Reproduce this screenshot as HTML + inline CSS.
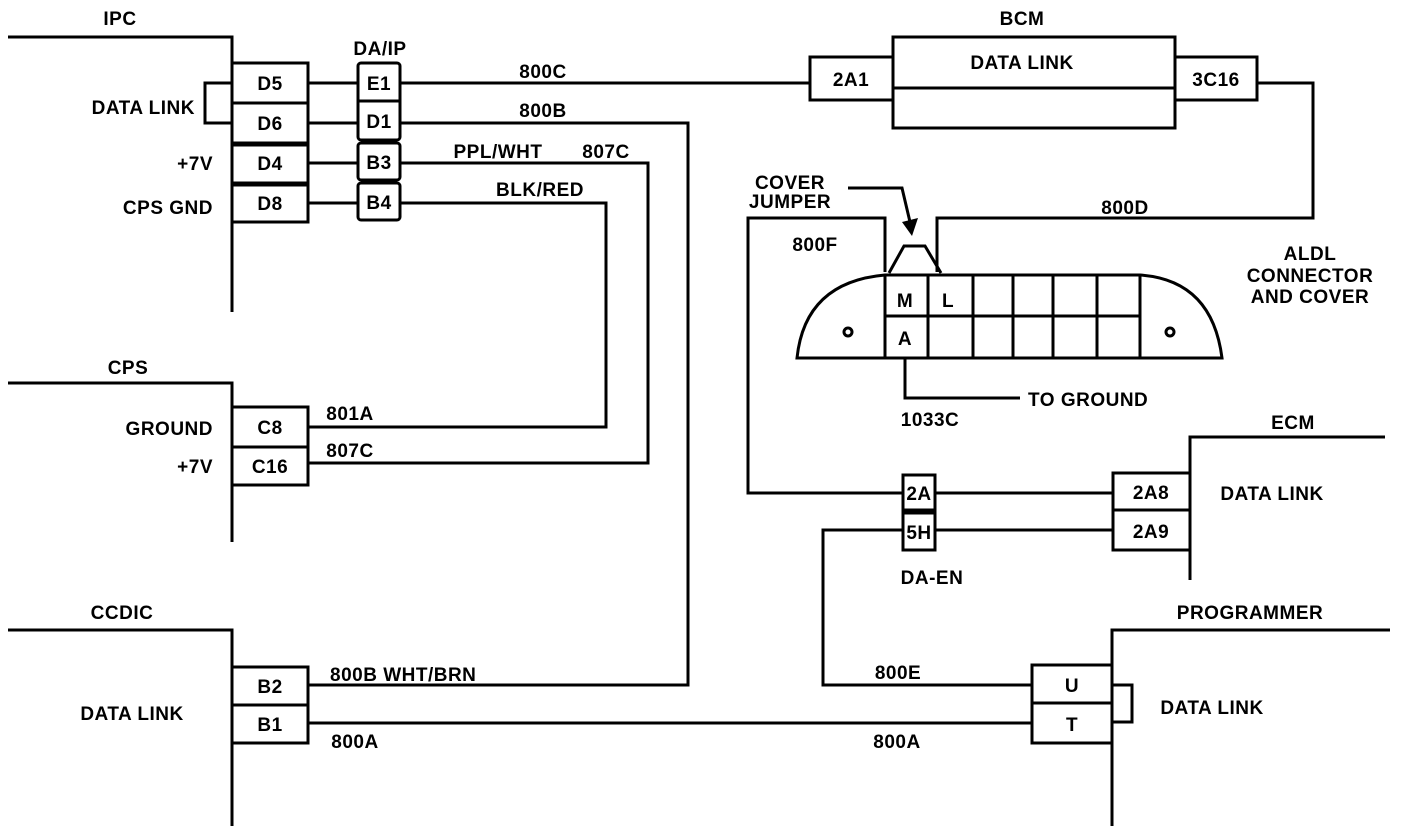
<!DOCTYPE html>
<html><head><style>
html,body{margin:0;padding:0;background:#fff;}
svg{display:block;}
text{font-family:"Liberation Sans",sans-serif;font-weight:bold;font-size:19px;fill:#000;letter-spacing:0.5px;}
</style></head><body>
<svg width="1408" height="826" viewBox="0 0 1408 826" xmlns="http://www.w3.org/2000/svg">
<g fill="none" stroke="#000" stroke-width="3">
<polyline points="8,37 232,37 232,312"/>
<rect x="232" y="63" width="76" height="80"/><line x1="232" y1="103" x2="308" y2="103"/>
<rect x="232" y="145" width="76" height="38"/>
<rect x="232" y="185" width="76" height="37"/>
<polyline points="232,83 205,83 205,123 232,123"/>
<line x1="308" y1="83" x2="358" y2="83"/><line x1="308" y1="123" x2="358" y2="123"/>
<line x1="308" y1="163" x2="358" y2="163"/><line x1="308" y1="203" x2="358" y2="203"/>
<rect x="358" y="63" width="42" height="77" rx="3"/><line x1="358" y1="101" x2="400" y2="101"/>
<rect x="358" y="143" width="42" height="37" rx="3"/>
<rect x="358" y="183" width="42" height="37" rx="3"/>
<line x1="400" y1="83" x2="810" y2="83"/>
<polyline points="400,123 688,123 688,685 308,685"/>
<polyline points="400,163 648,163 648,463 308,463"/>
<polyline points="400,203 606,203 606,427 308,427"/>
<polyline points="8,383 232,383 232,542"/>
<rect x="232" y="407" width="76" height="40"/><rect x="232" y="447" width="76" height="38"/>
<polyline points="8,630 232,630 232,826"/>
<rect x="232" y="667" width="76" height="38"/><rect x="232" y="705" width="76" height="38"/>
<line x1="308" y1="723" x2="1032" y2="723"/>
<rect x="893" y="37" width="282" height="91"/><line x1="893" y1="88" x2="1175" y2="88"/>
<rect x="810" y="57" width="83" height="43"/><rect x="1175" y="57" width="82" height="43"/>
<polyline points="1257,83 1313,83 1313,218 937,218 937,272"/>
<path d="M885,275 L1140,275 Q1212,280 1222,358 L797,358 Q805,282 885,275 Z"/>
<line x1="885" y1="316" x2="1140" y2="316"/>
<line x1="885" y1="275" x2="885" y2="358"/><line x1="928" y1="275" x2="928" y2="358"/>
<line x1="973" y1="275" x2="973" y2="358"/><line x1="1013" y1="275" x2="1013" y2="358"/>
<line x1="1053" y1="275" x2="1053" y2="358"/><line x1="1097" y1="275" x2="1097" y2="358"/>
<line x1="1140" y1="275" x2="1140" y2="358"/>
<circle cx="848" cy="332" r="4"/><circle cx="1170" cy="332" r="4"/>
<polyline points="889,273 904,246 925,246 941,273"/>
<polyline points="848,188 902,188 910,222"/>
<polyline points="885,272 885,218 748,218 748,493 903,493"/>
<polyline points="905,358 905,398 1020,398"/>
<rect x="903" y="475" width="32" height="35"/><rect x="903" y="513" width="32" height="37"/>
<line x1="935" y1="493" x2="1113" y2="493"/><line x1="935" y1="530" x2="1113" y2="530"/>
<polyline points="903,530 823,530 823,685 1032,685"/>
<polyline points="1385,437 1190,437 1190,580"/>
<rect x="1113" y="473" width="77" height="37"/><rect x="1113" y="510" width="77" height="40"/>
<polyline points="1390,630 1112,630 1112,826"/>
<rect x="1032" y="665" width="80" height="38"/><rect x="1032" y="703" width="80" height="40"/>
<polyline points="1112,685 1132,685 1132,722 1112,722"/>
</g>
<polygon points="902,222 918,218 912,236" fill="#000"/>
<g>
<text x="120" y="25" text-anchor="middle">IPC</text>
<text x="380" y="55" text-anchor="middle">DA/IP</text>
<text x="195" y="114" text-anchor="end">DATA LINK</text>
<text x="213" y="170" text-anchor="end">+7V</text>
<text x="213" y="214" text-anchor="end">CPS GND</text>
<text x="270" y="90" text-anchor="middle">D5</text>
<text x="270" y="130" text-anchor="middle">D6</text>
<text x="270" y="170" text-anchor="middle">D4</text>
<text x="270" y="210" text-anchor="middle">D8</text>
<text x="379" y="90" text-anchor="middle">E1</text>
<text x="379" y="128" text-anchor="middle">D1</text>
<text x="379" y="169" text-anchor="middle">B3</text>
<text x="379" y="209" text-anchor="middle">B4</text>
<text x="543" y="78" text-anchor="middle">800C</text>
<text x="543" y="117" text-anchor="middle">800B</text>
<text x="498" y="158" text-anchor="middle">PPL/WHT</text>
<text x="606" y="158" text-anchor="middle">807C</text>
<text x="540" y="196" text-anchor="middle">BLK/RED</text>
<text x="128" y="374" text-anchor="middle">CPS</text>
<text x="213" y="435" text-anchor="end">GROUND</text>
<text x="213" y="473" text-anchor="end">+7V</text>
<text x="270" y="434" text-anchor="middle">C8</text>
<text x="270" y="473" text-anchor="middle">C16</text>
<text x="350" y="420" text-anchor="middle">801A</text>
<text x="350" y="457" text-anchor="middle">807C</text>
<text x="122" y="619" text-anchor="middle">CCDIC</text>
<text x="132" y="720" text-anchor="middle">DATA LINK</text>
<text x="270" y="693" text-anchor="middle">B2</text>
<text x="270" y="731" text-anchor="middle">B1</text>
<text x="330" y="681">800B  WHT/BRN</text>
<text x="355" y="748" text-anchor="middle">800A</text>
<text x="897" y="748" text-anchor="middle">800A</text>
<text x="1022" y="25" text-anchor="middle">BCM</text>
<text x="1022" y="69" text-anchor="middle">DATA LINK</text>
<text x="851" y="86" text-anchor="middle">2A1</text>
<text x="1216" y="86" text-anchor="middle">3C16</text>
<text x="1125" y="214" text-anchor="middle">800D</text>
<text x="790" y="189" text-anchor="middle">COVER</text>
<text x="790" y="208" text-anchor="middle">JUMPER</text>
<text x="815" y="251" text-anchor="middle">800F</text>
<text x="905" y="307" text-anchor="middle">M</text>
<text x="948" y="307" text-anchor="middle">L</text>
<text x="905" y="345" text-anchor="middle">A</text>
<text x="1028" y="406">TO GROUND</text>
<text x="930" y="426" text-anchor="middle">1033C</text>
<text x="919" y="500" text-anchor="middle">2A</text>
<text x="919" y="539" text-anchor="middle">5H</text>
<text x="932" y="584" text-anchor="middle">DA-EN</text>
<text x="1293" y="429" text-anchor="middle">ECM</text>
<text x="1272" y="500" text-anchor="middle">DATA LINK</text>
<text x="1151" y="499" text-anchor="middle">2A8</text>
<text x="1151" y="538" text-anchor="middle">2A9</text>
<text x="1250" y="619" text-anchor="middle">PROGRAMMER</text>
<text x="1212" y="714" text-anchor="middle">DATA LINK</text>
<text x="1072" y="692" text-anchor="middle">U</text>
<text x="1072" y="731" text-anchor="middle">T</text>
<text x="898" y="679" text-anchor="middle">800E</text>
<text x="1310" y="260" text-anchor="middle">ALDL</text>
<text x="1310" y="282" text-anchor="middle">CONNECTOR</text>
<text x="1310" y="303" text-anchor="middle">AND COVER</text>
</g>
</svg>
</body></html>
